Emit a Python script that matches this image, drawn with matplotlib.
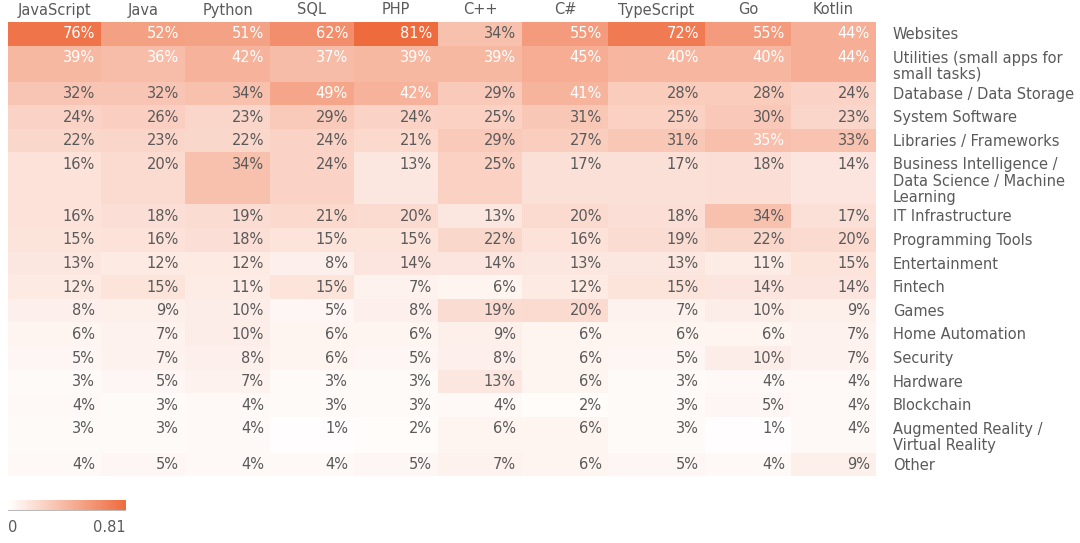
import numpy as np
import matplotlib.pyplot as plt
from matplotlib.colors import LinearSegmentedColormap, Normalize
import matplotlib.cm as cm

plt.rcParams['font.family'] = ['DejaVu Sans']

languages = ['JavaScript', 'Java', 'Python', 'SQL', 'PHP', 'C++', 'C#',
             'TypeScript', 'Go', 'Kotlin']
categories = [
    'Websites',
    'Utilities (small apps for\nsmall tasks)',
    'Database / Data Storage',
    'System Software',
    'Libraries / Frameworks',
    'Business Intelligence /\nData Science / Machine\nLearning',
    'IT Infrastructure',
    'Programming Tools',
    'Entertainment',
    'Fintech',
    'Games',
    'Home Automation',
    'Security',
    'Hardware',
    'Blockchain',
    'Augmented Reality /\nVirtual Reality',
    'Other',
]

# share (%) of each language's users working on each kind of project
javascript = [76, 39, 32, 24, 22, 16, 16, 15, 13, 12, 8, 6, 5, 3, 4, 3, 4]
java = [52, 36, 32, 26, 23, 20, 18, 16, 12, 15, 9, 7, 7, 5, 3, 3, 5]
python = [51, 42, 34, 23, 22, 34, 19, 18, 12, 11, 10, 10, 8, 7, 4, 4, 4]
sql = [62, 37, 49, 29, 24, 24, 21, 15, 8, 15, 5, 6, 6, 3, 3, 1, 4]
php = [81, 39, 42, 24, 21, 13, 20, 15, 14, 7, 8, 6, 5, 3, 3, 2, 5]
cpp = [34, 39, 29, 25, 29, 25, 13, 22, 14, 6, 19, 9, 8, 13, 4, 6, 7]
csharp = [55, 45, 41, 31, 27, 17, 20, 16, 13, 12, 20, 6, 6, 6, 2, 6, 6]
typescript = [72, 40, 28, 25, 31, 17, 18, 19, 13, 15, 7, 6, 5, 3, 3, 3, 5]
go = [55, 40, 28, 30, 35, 18, 34, 22, 11, 14, 10, 6, 10, 4, 5, 1, 4]
kotlin = [44, 44, 24, 23, 33, 14, 17, 20, 15, 14, 9, 7, 7, 4, 4, 4, 9]

vmax = 0.81

values = np.array([javascript, java, python, sql, php, cpp, csharp,
                   typescript, go, kotlin]).T / 100.0

# layout in pixels
W, H = 1080, 543
col_widths = [93, 84, 85, 84, 84, 84, 86, 97, 86, 85]
n_lines = [c.count('\n') + 1 for c in categories]
row_heights = [max(23.6, 16 * n + 4) for n in n_lines]
x0, y0 = 8, 22
x_edges = x0 + np.concatenate([[0], np.cumsum(col_widths)])
y_edges = y0 + np.concatenate([[0], np.cumsum(row_heights)])

cmap = LinearSegmentedColormap.from_list('w_or', ['#ffffff', '#ee6b3e'])
text_grey = '#5a5a5a'
fs = 10.5

fig = plt.figure(figsize=(W / 100, H / 100), dpi=100)
ax = fig.add_axes([0, 0, 1, 1])
ax.set_xlim(0, W)
ax.set_ylim(H, 0)
ax.axis('off')

ax.pcolormesh(x_edges, y_edges, values, cmap=cmap, vmin=0, vmax=vmax)

for j, lang in enumerate(languages):
    ax.text((x_edges[j] + x_edges[j + 1]) / 2, 10, lang, ha='center',
            va='center', fontsize=fs, color=text_grey)

for i, cat in enumerate(categories):
    top = y_edges[i]
    for j in range(len(languages)):
        v = values[i, j]
        ax.text(x_edges[j + 1] - 6, top + 12, f'{v * 100:.0f}%',
                ha='right', va='center', fontsize=fs,
                color='white' if v >= 0.35 else text_grey)
    ax.text(893, top + 5, cat, ha='left', va='top', fontsize=fs,
            color=text_grey, linespacing=1.1)

# colour legend
cax = fig.add_axes([8 / W, 1 - 511 / H, 118 / W, 11 / H])
cb = fig.colorbar(cm.ScalarMappable(norm=Normalize(0, vmax), cmap=cmap),
                  cax=cax, orientation='horizontal')
cb.outline.set_visible(False)
cax.set_xticks([])
cax.axhline(0, color='#bbbbbb', lw=1.5)
ax.text(8, 527, '0', ha='left', va='center', fontsize=fs, color=text_grey)
ax.text(126, 527, '0.81', ha='right', va='center', fontsize=fs,
        color=text_grey)

fig.savefig('out.png', dpi=100)
